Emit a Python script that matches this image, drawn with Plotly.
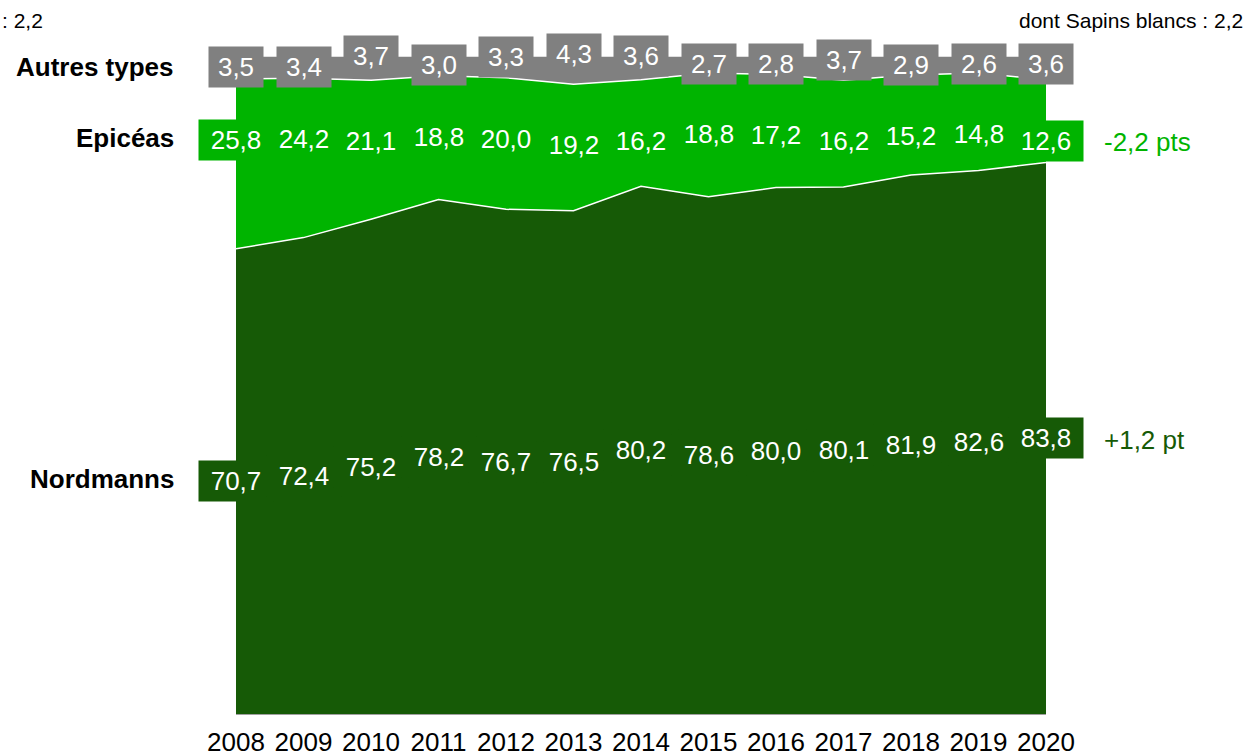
import plotly.graph_objects as go

years = [2008, 2009, 2010, 2011, 2012, 2013, 2014, 2015, 2016, 2017, 2018, 2019, 2020]
nordmanns = [70.7, 72.4, 75.2, 78.2, 76.7, 76.5, 80.2, 78.6, 80.0, 80.1, 81.9, 82.6, 83.8]
epiceas = [25.8, 24.2, 21.1, 18.8, 20.0, 19.2, 16.2, 18.8, 17.2, 16.2, 15.2, 14.8, 12.6]
autres = [3.5, 3.4, 3.7, 3.0, 3.3, 4.3, 3.6, 2.7, 2.8, 3.7, 2.9, 2.6, 3.6]
series_names = ["Nordmanns", "Epicéas", "Autres types"]
evolution_epiceas = "-2,2 pts"
evolution_nordmanns = "+1,2 pt"
note_text = "dont Sapins blancs : 2,2"
note_left = ": 2,2"

# styles / label placement (pixel offsets of gray labels, avoiding collisions)
C_NORD = "#165a06"
C_EPI = "#00b400"
C_AUT = "#808080"
gray_label_shift = [-11, -11, 0, -9, -1, 2, 0, -8, -8, -4, -9, -8, -8]
FONT = "Liberation Sans, Arial, sans-serif"
FS = 26


def fr(v):
    return f"{v:.1f}".replace(".", ",")


fig = go.Figure()
for name, vals, col in [(series_names[0], nordmanns, C_NORD),
                        (series_names[1], epiceas, C_EPI),
                        (series_names[2], autres, C_AUT)]:
    fig.add_trace(go.Scatter(
        x=years, y=vals, name=name, mode="lines", stackgroup="one",
        line=dict(color="white", width=1.5), fillcolor=col,
        hoverinfo="skip", showlegend=False))

ann = []


def box(x, y, text, col, yshift):
    w = 66 if len(text) >= 4 else 46
    ann.append(dict(x=x, y=y, xref="x", yref="y", text=text, showarrow=False,
                    font=dict(family=FONT, size=FS, color="white"),
                    bgcolor=col, borderpad=4, width=w, height=32,
                    xanchor="center", yanchor="middle", yshift=yshift))


for i, yr in enumerate(years):
    n, e, a = nordmanns[i], epiceas[i], autres[i]
    box(yr, n / 2, fr(n), C_NORD, 0)
    box(yr, n + e, fr(e), C_EPI, -61)
    box(yr, 100, fr(a), C_AUT, gray_label_shift[i])

# left series titles
for name, y, ys in [(series_names[2], 100, -11),
                    (series_names[1], nordmanns[0] + epiceas[0], -59),
                    (series_names[0], nordmanns[0] / 2, 2)]:
    ann.append(dict(x=years[0], y=y, xref="x", yref="y", text=f"<b>{name}</b>",
                    showarrow=False, xanchor="right", yanchor="middle",
                    xshift=-60, yshift=ys,
                    font=dict(family=FONT, size=FS, color="black")))

# right evolution labels
ann.append(dict(x=years[-1], y=nordmanns[-1] + epiceas[-1], xref="x", yref="y",
                text=evolution_epiceas, showarrow=False, xanchor="left", yanchor="middle",
                xshift=56, yshift=-62, font=dict(family=FONT, size=FS, color=C_EPI)))
ann.append(dict(x=years[-1], y=nordmanns[-1] / 2, xref="x", yref="y",
                text=evolution_nordmanns, showarrow=False, xanchor="left", yanchor="middle",
                xshift=56, yshift=-2, font=dict(family=FONT, size=FS, color=C_NORD)))

# top notes
ann.append(dict(x=1, y=1, xref="paper", yref="paper", text=note_text, showarrow=False,
                xanchor="right", yanchor="middle", xshift=199, yshift=36,
                font=dict(family=FONT, size=21, color="black")))
ann.append(dict(x=0, y=1, xref="paper", yref="paper", text=note_left, showarrow=False,
                xanchor="left", yanchor="middle", xshift=-236, yshift=36,
                font=dict(family=FONT, size=21, color="black")))

fig.update_layout(
    width=1252, height=756,
    margin=dict(l=236, r=206, t=56, b=42, autoexpand=False),
    paper_bgcolor="white", plot_bgcolor="white",
    annotations=ann,
    xaxis=dict(range=[years[0], years[-1]], tickmode="array", tickvals=years,
               ticktext=[str(y) for y in years], showgrid=False, zeroline=False,
               showline=True, linecolor="#a0a0a0", linewidth=1, automargin=False,
               ticks="outside", ticklen=5, tickcolor="rgba(0,0,0,0)",
               tickfont=dict(family=FONT, size=FS, color="black")),
    yaxis=dict(range=[0, 100], visible=False, showgrid=False, zeroline=False,
               automargin=False),
    hovermode=False,
)

fig.write_html("out.html", config={"displayModeBar": False},
               post_script="document.body.style.margin='0';document.body.style.overflow='hidden';")
